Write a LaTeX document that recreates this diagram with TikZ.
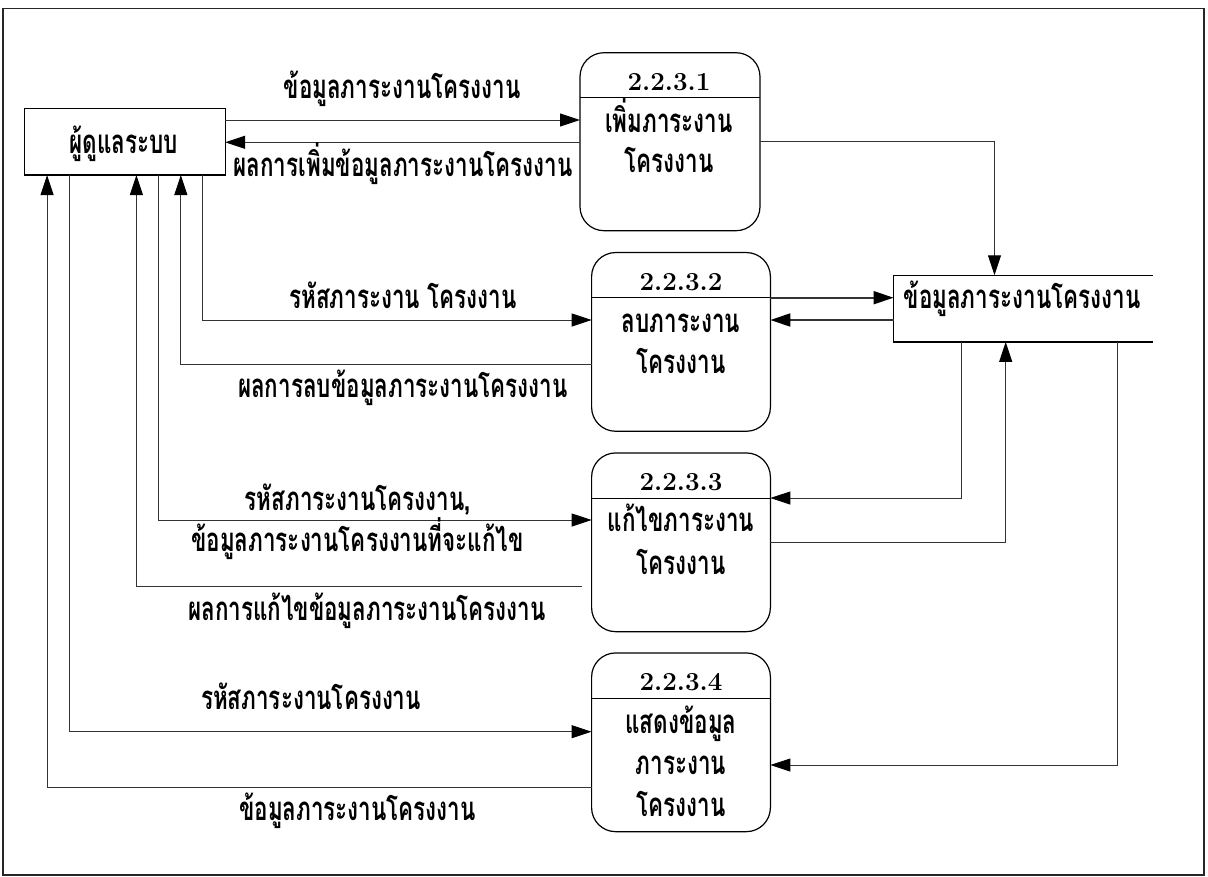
\documentclass[tikz,border=0pt]{standalone}
\usepackage{fontspec}
\usetikzlibrary{arrows.meta}
\newfontfamily\thaifont[Script=Thai,FakeStretch=0.68]{Loma}
\begin{document}
\begin{tikzpicture}[x=1pt,y=-1pt,
  every node/.style={inner sep=0pt, outer sep=0pt},
  txt/.style={font=\thaifont\bfseries\fontsize{33}{35}\selectfont, anchor=base},
  num/.style={font=\bfseries\fontsize{26}{28}\selectfont, anchor=base},
  flow/.style={draw=black!80, line width=1pt, -{Triangle[length=20pt,width=13pt,color=black]}},
  bigflow/.style={flow, line width=2pt},
  entity/.style={draw, line width=1.2pt, minimum width=200.4pt, minimum height=66.7pt},
  proc/.style={draw, line width=1.2pt, rounded corners=24pt, minimum width=178.8pt, minimum height=178.7pt},
  divider/.style={draw, line width=1pt},
]
\useasboundingbox (0,0) rectangle (1208,876);
% page frame
\draw[line width=1.5pt, black!85] (3,8.3) rectangle (1204,875);

% external entity
\node[entity] (admin) at (125,141.7) {};
\node[txt] (adminlbl) at (124,153) {ผู้ดูแลระบบ};

% data store (open on the right)
\node[minimum width=259pt, minimum height=66.7pt] (store) at (1023,308.6) {};
\draw[line width=1.2pt] (store.north east) -- (store.north west) -- (store.south west) -- (store.south east);
\node[txt] (storelbl) at (1022,308) {ข้อมูลภาระงานโครงงาน};

% processes
\node[proc, minimum width=180pt, minimum height=178pt] (p1) at (670,141.7) {};
\draw[divider] (p1.west |- 0,97.3) -- (p1.east |- 0,97.3);
\node[num] (p1id) at (669,90) {2.2.3.1};
\node[txt] (p1a) at (669,132.7) {เพิ่มภาระงาน};
\node[txt] (p1b) at (669,172.7) {โครงงาน};

\node[proc] (p2) at (681,341.9) {};
\draw[divider] (p2.west |- 0,297.7) -- (p2.east |- 0,297.7);
\node[num] (p2id) at (681,290) {2.2.3.2};
\node[txt] (p2a) at (681,332.7) {ลบภาระงาน};
\node[txt] (p2b) at (681,373) {โครงงาน};

\node[proc] (p3) at (681,542.3) {};
\draw[divider] (p3.west |- 0,498) -- (p3.east |- 0,498);
\node[num] (p3id) at (681,490) {2.2.3.3};
\node[txt] (p3a) at (681,531.7) {แก้ไขภาระงาน};
\node[txt] (p3b) at (681,574) {โครงงาน};

\node[proc] (p4) at (681,742.3) {};
\draw[divider] (p4.west |- 0,698) -- (p4.east |- 0,698);
\node[num] (p4id) at (681,690) {2.2.3.4};
\node[txt] (p4a) at (681,733) {แสดงข้อมูล};
\node[txt] (p4b) at (681,774) {ภาระงาน};
\node[txt] (p4c) at (681,816) {โครงงาน};

% flows between admin and processes
\draw[flow] (admin.east |- 0,120) -- (p1.west |- 0,120);
\node[txt] (f1) at (402,98) {ข้อมูลภาระงานโครงงาน};
\draw[flow] (p1.west |- 0,142.3) -- (admin.east |- 0,142.3);
\node[txt] (f2) at (403,176) {ผลการเพิ่มข้อมูลภาระงานโครงงาน};

\draw[flow] (admin.south -| 202.7,0) |- (p2.west |- 0,320);
\node[txt] (f3) at (403,308) {รหัสภาระงาน โครงงาน};
\draw[flow] (p2.west |- 0,364) -| (admin.south -| 180.8,0);
\node[txt] (f4) at (403,397) {ผลการลบข้อมูลภาระงานโครงงาน};

\draw[flow] (admin.south -| 158.6,0) |- (p3.west |- 0,520);
\node[txt] (f5) at (358,510) {รหัสภาระงานโครงงาน,};
\node[txt] (f5b) at (357.5,551.7) {ข้อมูลภาระงานโครงงานที่จะแก้ไข};
\draw[flow, shorten <=10pt] (p3.west |- 0,586.7) -| (admin.south -| 136.4,0);
\node[txt] (f6) at (367,620.7) {ผลการแก้ไขข้อมูลภาระงานโครงงาน};

\draw[flow] (admin.south -| 69.3,0) |- (p4.west |- 0,731.7);
\node[txt] (f7) at (311,709) {รหัสภาระงานโครงงาน};
\draw[flow] (p4.west |- 0,787.7) -| (admin.south -| 47.1,0);
\node[txt] (f8) at (357.5,820) {ข้อมูลภาระงานโครงงาน};

% flows between processes and the data store
\draw[flow] (p1.east |- 0,141.7) -| (store.north -| 994.5,0);
\draw[bigflow] (p2.east |- 0,297.7) -- (store.west |- 0,297.7);
\draw[bigflow] (store.west |- 0,320) -- (p2.east |- 0,320);
\draw[flow] (store.south -| 961,0) |- (p3.east |- 0,498);
\draw[flow] (p3.east |- 0,542.7) -| (store.south -| 1005.7,0);
\draw[flow] (store.south -| 1117,0) |- (p4.east |- 0,765);
\end{tikzpicture}
\end{document}
